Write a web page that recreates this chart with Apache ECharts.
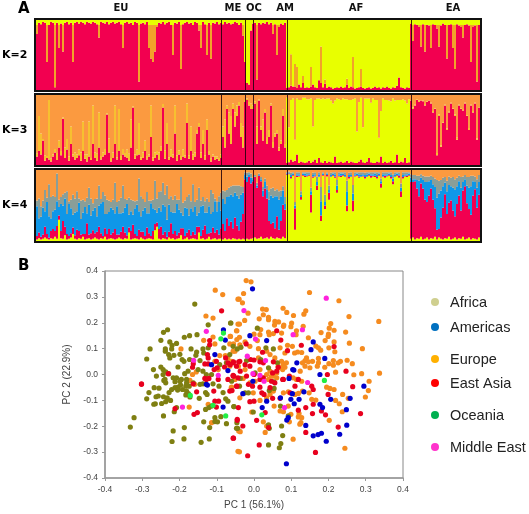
<!DOCTYPE html>
<html><head><meta charset="utf-8">
<style>html,body{margin:0;padding:0;background:#fff}#c{width:529px;height:514px;filter:blur(0.35px)}</style>
<script src="https://cdn.jsdelivr.net/npm/echarts@6/dist/echarts.min.js"></script>
</head><body><div id="c"></div>
<script>
// Column order in every panel: EU 93, ME 12, OC 4, AM 17, AF 62, EA 36
const regionLabels = ['EU','ME','OC','AM','AF','EA'];
const separators = [93,105,109,126,188];
const kLabels = ['K=2','K=3','K=4'];

const k2Red = [
95,80,96,94,97,96,40,93,97,96, 4,96,60,95,55,96,97,94,96,40, 96,97,95,97,96,94,97,96,95,97, 96,94,75,97,96,95,97,94,96,97,
95,96,97,94,60,96,97,95,96,93, 97,96,12,95,96,94,97,60,45,40, 55,90,96,95,97,94,96,97,93,50, 96,95,97,30,94,96,97,95,96,93,
97,96,85,60,97,94,50,96,45,96, 95,97,94,
96,94,97,95,96,94,95,97,96,93,96,78,
40,10,8,85,
95,96,15,96,94,96,95,97,94,96,80,94,50,90,95,93,96,
3,4,6,5,5,3,8,4,10,3, 4,3,5,8,4,3,14,10,4,9, 3,5,4,2,3,4,3,5,3,4, 8,3,5,4,2,3,4,5,3,2, 3,4,2,3,5,3,4,2,4,3, 5,3,2,4,3,6,18,4,3,2, 4,3,
95,70,94,93,90,62,94,55,93,92, 60,94,93,88,62,92,95,93,45,93, 94,60,30,94,92,90,75,93,94,92, 40,90,92,12,93,94];
const k2AfricaSpikes = [[128,45],[130,32],[131,30],[134,10],[138,28],[143,52],[145,6],[156,8],[159,43],[163,25]];

const k3Red = [
8,12,20,15,35,6,10,8,5,12, 18,7,25,14,66,10,22,6,30,12, 8,10,14,6,20,9,5,12,7,30, 10,6,25,8,12,15,72,18,5,10,
30,8,20,7,15,12,10,6,25,82, 9,14,15,7,10,20,8,12,40,6, 10,15,8,20,82,9,30,7,12,10, 45,6,15,8,12,10,60,9,20,7,
12,45,55,10,30,8,50,15,5,12, 7,9,6,
10,40,25,80,45,30,80,55,70,85,40,25,
90,93,85,80,
80,88,30,92,50,35,75,30,40,85,25,40,45,20,30,70,25,
3,4,8,5,6,15,3,5,4,3, 4,6,3,5,8,3,10,4,3,6, 3,5,4,3,12,3,4,5,3,4, 6,3,5,4,3,3,5,8,4,3, 5,10,4,3,3,5,4,12,3,5, 3,4,6,3,4,15,3,5,4,10, 3,4,
92,80,85,93,90,92,91,85,90,92, 88,75,80,14,70,26,60,85,50,75, 88,80,70,36,85,80,78,88,70,50, 85,75,88,36,82,70];
const k3Yellow = [
6,4,50,30,2,8,3,85,4,3, 5,10,10,6,2,15,15,6,25,3, 10,5,8,12,42,6,10,50,3,55, 8,10,50,5,6,8,2,20,5,8,
55,3,60,6,8,5,12,10,40,2, 6,8,45,4,8,15,5,3,45,5, 8,5,10,6,5,12,30,4,10,5, 40,8,6,5,10,4,28,5,35,8,
6,5,5,8,20,6,15,5,4,3, 5,3,4,
5,15,40,5,30,40,8,20,15,5,20,30,
3,2,5,8,
5,3,25,2,5,30,5,10,10,3,8,5,5,5,5,10,5,
93,50,85,90,30,80,90,88,92,93, 90,88,92,50,85,92,85,90,92,88, 92,90,88,85,80,92,90,88,92,90, 88,90,88,90,92,45,85,88,50,92, 90,85,85,92,90,88,35,65,92,88, 90,88,85,92,88,78,90,88,90,82, 85,90,
1,2,1,1,2,1,1,2,1,1, 1,2,1,3,2,2,1,1,2,1, 1,1,2,3,1,1,2,1,1,3, 1,2,1,2,1,1];

const k4Yellow = [
3,2,4,2,3,5,3,2,4,3, 6,3,30,4,3,8,2,3,5,10, 3,2,4,3,6,2,3,4,2,3, 5,3,2,4,3,6,2,3,4,3,
2,3,5,3,2,4,3,12,2,3, 4,3,2,5,3,2,3,4,3,2, 15,20,3,2,4,3,2,5,3,4, 2,3,4,8,2,3,5,2,3,4,
3,2,12,3,4,2,3,6,2,3, 4,2,3,
3,2,4,2,3,2,4,3,2,3,2,3,
2,3,2,3,
4,5,3,4,6,3,4,5,3,6,4,3,5,4,3,6,4,
93,94,88,92,16,90,91,58,92,90, 91,92,40,89,91,72,90,28,92,45, 91,58,90,92,89,68,91,90,92,90, 42,88,90,42,91,92,89,90,91,88, 90,92,89,91,90,88,92,75,90,89, 91,92,88,80,90,92,89,62,88,91, 90,92,
3,5,2,4,3,6,2,3,5,2, 4,3,6,2,5,3,2,4,3,6, 2,3,5,2,4,3,6,2,3,5, 2,4,3,2,5,3];
const k4Red = [
12,5,8,4,6,15,7,3,10,14, 8,18,6,10,25,12,8,4,6,9, 5,14,10,6,4,8,22,5,9,12, 6,10,18,7,4,12,8,14,5,9,
15,6,4,10,18,8,5,7,12,20, 6,4,14,8,10,5,16,7,4,12, 9,6,14,18,5,10,4,8,22,6, 12,5,8,10,16,4,7,14,5,9,
6,18,8,4,12,20,7,5,10,16, 8,14,6,
15,22,10,30,18,25,14,30,20,12,25,35,
85,80,88,78,
80,85,72,88,78,60,70,55,25,18,22,15,30,12,25,45,40,
1,1,2,1,30,2,1,4,1,2, 1,1,25,2,1,6,1,8,1,5, 2,10,1,1,2,4,1,2,1,1, 8,2,1,15,1,1,2,1,1,2, 1,1,3,1,2,2,1,6,1,3, 1,1,2,4,1,1,3,8,2,1, 2,1,
80,78,82,70,60,75,72,55,50,62, 70,55,40,14,12,30,45,62,35,48, 55,40,30,50,60,40,65,75,50,40, 35,60,70,45,60,72];
const k4Blue = [
25,42,20,28,38,22,45,30,18,25, 30,35,12,38,22,40,28,45,35,18, 32,26,40,22,30,38,14,42,25,28, 36,22,30,42,48,20,28,24,38,32,
22,40,30,26,20,35,44,18,28,14, 36,44,26,22,30,40,20,28,46,32, 20,14,30,22,42,36,24,38,16,30, 26,44,32,22,18,40,34,20,38,28,
40,16,20,42,34,18,30,38,26,22, 44,26,46,
25,35,38,30,42,38,45,35,42,45,38,30,
6,8,4,8,
2,1,3,1,3,8,10,12,30,40,35,45,28,42,35,20,8,
1,1,3,2,4,2,2,3,2,3, 2,1,5,2,2,5,3,20,2,5, 2,4,2,2,3,6,2,3,2,2, 20,3,2,10,2,2,3,2,2,3, 3,2,2,2,3,3,2,3,3,2, 2,2,3,4,3,2,2,5,3,2, 2,2,
6,4,3,12,22,8,12,25,28,20, 12,22,30,45,50,38,30,16,32,25, 20,32,38,25,20,32,12,10,25,30, 40,20,10,28,18,12];
const k4Grey = [
20,8,28,15,10,30,6,20,30,22, 18,6,10,10,16,8,25,4,12,28, 20,14,6,26,18,8,22,6,24,10, 12,25,18,6,14,26,20,16,8,14,
26,6,18,22,28,12,6,24,16,20, 10,6,24,28,16,8,30,18,4,12, 18,20,22,28,8,16,26,8,22,18, 24,6,14,26,18,10,16,30,10,14,
6,22,30,8,12,16,20,6,18,26, 4,14,8,
25,12,18,10,12,12,15,10,14,18,12,8,
4,5,3,6,
3,2,4,2,3,5,4,6,12,10,14,8,10,12,8,6,10,
2,2,3,2,5,3,3,5,2,2, 3,3,5,3,3,8,3,20,2,10, 2,6,3,2,3,8,3,2,2,4, 15,3,4,12,3,2,3,4,3,3, 3,2,3,3,2,4,2,4,3,3, 3,2,4,6,3,2,3,6,4,3, 3,2,
5,6,6,6,7,5,6,8,8,7, 6,10,12,25,18,15,12,8,15,12, 12,15,14,12,8,15,8,6,12,15, 15,8,8,12,10,6];
// Tall grey spikes in the EU part of K=4: [column, height reached]
const k4TallSpikes = [[7,80],[11,95],[16,70],[21,70],[27,75],[32,78],[40,82],[44,78],[52,88],[60,85],[64,82],[66,78],[73,90],[79,80],[82,75],[88,72]];

const pcOrange = [[-.021,.363],[-.008,.358],[-.028,.313],[-.04,.291],[-.031,.277],[.149,.317],[.228,.285],[.255,.224],[.335,.205],[.078,.256],[.088,.24],[.106,.228],[.139,.246],[.134,.233],[.023,.253],[.033,.251],[.025,.231],[.014,.215],[.039,.221],[.039,.212],[-.016,.237],[-.025,.209],[-.039,.195],[-.046,.169],[-.039,.144],[-.064,.147],[.056,.205],[.066,.203],[.055,.191],[.08,.191],[.079,.186],[.101,.199],[.099,.185],[.132,.186],[.114,.169],[.113,.154],[.206,.197],[.202,.179],[.215,.171],[.2,.156],[.199,.147],[.246,.164],[.18,.162],[.146,.142],[.191,.131],[.215,.126],[.256,.121],[.291,.1],[.201,.103],[.217,.088],[.166,.11],[.179,.094],[.173,.103],[0,.156],[.018,.174],[.039,.164],[.041,.154],[.052,.158],[.074,.16],[.016,.154],[.009,.131],[.012,.1],[-.038,.115],[-.024,.126],[-.011,.109],[-.051,.09],[-.055,.118],[-.046,.135],[.09,.113],[.103,.109],[.07,.103],[.083,.083],[.109,.083],[.117,.087],[.128,.085],[.141,.064],[.137,.054],[.13,.045],[.146,.049],[.157,.051],[.173,.062],[.173,.045],[.17,.032],[.15,.026],[.137,.032],[.124,.013],[.201,.042],[.213,.054],[.226,.045],[.232,.051],[.25,.055],[.264,.042],[.213,.036],[.19,.028],[.219,.009],[.268,-.001],[.289,.003],[.337,.005],[.309,-.026],[.079,.038],[.074,.051],[.083,.028],[.087,.045],[.07,.026],[.077,.019],[.065,.032],[.056,.064],[.043,.077],[.034,.09],[.043,.013],[.061,.006],[.052,-.006],[.039,-.019],[.034,0],[.105,-.013],[.114,-.019],[.128,-.026],[-.06,.051],[-.042,.032],[-.024,.019],[.012,.064],[.016,.019],
[-.051,-.019],[-.029,-.015],[-.06,-.049],[-.011,-.032],[.003,-.026],[.021,-.013],[.047,-.006],[.061,-.013],[.195,-.049],[.204,-.054],[.215,-.058],[.238,-.077],[.253,-.092],[.307,-.062],[.299,-.087],[.219,-.1],[.229,-.113],[.237,-.144],[.202,-.177],[.244,-.285],[.105,-.25],[-.039,-.299],[-.037,-.221],[.054,-.122],[-.006,-.145],[.025,-.183],[.03,-.224],[.034,-.199],[.07,-.141],[.079,-.144],[.099,-.154],[.121,-.151],[.119,-.164],[.128,-.167],[.126,-.186],[.123,-.192],[.095,-.183],[.155,-.096],[.166,-.099],[.148,-.071],[.13,-.064],[.119,-.073],[.11,-.077],[.092,-.067],[.079,-.071],[.052,-.064],[.043,-.077],[.034,-.09],[.016,-.1],[.092,-.122],[-.002,-.071],
[-.104,.326],[-.084,.309],[-.043,.291],[-.129,.226],[-.11,.218],[-.043,.195],[-.047,.169],[-.063,.147],[-.11,.145],[-.135,.132],[-.196,.099],[-.105,.118],[-.056,.09],[-.092,.073],[-.077,.073],[-.065,.118],[-.07,.064],[-.165,0],[-.155,.01],[-.105,.051],[-.096,.019],[-.065,.032],[-.172,-.023],[-.159,-.038],[-.114,-.186],[-.043,-.297],[-.061,-.051],[-.038,-.09],[-.123,-.115],[-.041,-.218],[-.174,-.126]];

const pcOlive = [[-.159,.272],[-.232,.173],[-.243,.163],[-.25,.132],[-.279,.099],[-.288,.06],[-.226,.126],[-.22,.113],[-.208,.12],[-.238,.099],[-.238,.09],[-.221,.099],[-.229,.077],[-.226,.064],[-.215,.074],[-.199,.078],[-.187,.144],[-.173,.15],[-.153,.154],[-.063,.199],[-.123,.192],[-.169,.099],[-.154,.087],[-.156,.074],[-.193,.058],[-.188,.051],[-.173,.058],[-.137,.099],[-.135,.083],[-.145,.054],[-.27,.019],[-.25,.029],[-.244,.019],[-.237,.01],[-.262,-.006],[-.229,.003],[-.204,.029],[-.242,-.023],
[-.282,-.07],[-.268,-.051],[-.255,-.053],[-.288,-.094],[-.263,-.086],[-.257,-.083],[-.269,-.115],[-.265,-.113],[-.243,-.086],[-.233,-.09],[-.237,-.105],[-.248,-.112],[-.224,-.1],[-.228,-.07],[-.221,-.058],[-.212,-.051],[-.204,-.049],[-.197,-.041],[-.205,-.06],[-.192,-.058],[-.183,-.045],[-.174,-.045],[-.181,-.064],[-.176,-.074],[-.183,-.079],[-.172,-.087],[-.208,-.128],[-.214,-.144],[-.243,-.16],[-.322,-.167],[-.332,-.203],[-.217,-.218],[-.22,-.259],[-.187,-.205],[-.188,-.249],[-.142,-.262],[-.12,-.249],[-.119,-.205],[-.135,-.183],[-.105,-.182],[-.098,-.183],[-.074,-.19],[-.047,-.208],[-.089,-.163],[-.105,-.167],[-.076,-.094],[-.07,-.103],[-.054,-.124],[-.147,-.092],[-.13,-.07],[-.126,-.077],[-.13,-.135],[-.121,-.128],[-.114,-.122],[-.239,-.019],[-.237,-.032],[-.217,-.013],[-.212,-.028],[-.195,-.019],[-.181,-.032],[-.145,-.038],[-.137,-.036],[-.11,-.036],[-.094,-.045],[-.083,-.07],
[-.062,.199],[.009,.179],[-.035,.105],[-.045,.099],[.052,.099],[.032,.103],[.018,.058],[-.02,.054],[.063,.045],[.039,.026],[.003,.006],[.053,-.028],[-.037,-.015],[-.06,-.026],[-.039,-.045],[-.024,-.071],[-.015,-.071],[.041,-.062],[.054,-.054],[-.054,-.124],[-.002,-.145],[.071,-.122],[.092,-.16],[.074,-.199],[.039,-.195],[.041,-.208],[-.046,-.186],[-.044,-.208],[.077,-.236],[.072,-.267],[.068,-.283],[.039,-.272],
[-.177,.013],[-.186,.003],[-.137,.013],[-.15,.019],[-.128,0],[-.114,0],[-.081,.103],[-.074,.045],[-.092,.038],[-.065,.077],[-.056,.109],[-.123,.103],[-.181,-.019],[-.163,-.032],[-.208,-.013],[-.199,-.026],[-.244,0]];

const pcRed = [[-.087,.246],[-.119,.131],[-.119,.115],[-.125,.077],[-.123,.064],[-.23,.003],[-.163,.042],[-.165,.028],[-.132,.041],[-.123,.041],[-.101,.051],[-.099,.026],[-.076,.064],[-.07,.045],[-.056,.045],[-.047,.032],[-.041,.049],[-.079,.029],[-.107,.019],[-.132,-.015],[-.121,-.015],[-.096,-.019],[-.07,-.019],[-.043,-.013],[-.056,-.003],[-.302,-.036],[-.302,-.038],[-.163,-.036],[-.212,-.132],[-.161,-.154],[-.152,-.147],[-.154,-.067],[-.105,-.103],[-.095,-.103],[-.101,-.126],[-.108,-.064],[-.065,-.064],[-.059,-.062],[-.047,-.045],[-.128,-.019],[-.056,-.006],[-.045,-.177],[-.056,-.246],
[-.021,.118],[-.009,.058],[.023,.086],[.061,.169],[.072,.133],[.127,.113],[.09,.092],[.215,.108],[.247,.013],[.197,0],[.065,.028],[.052,.049],[.025,.045],[0,.056],[-.024,.038],[-.038,.051],[-.055,.049],[-.064,.038],[-.011,.032],[.016,.049],[-.054,-.006],[.05,.006],[.061,.013],[.077,-.019],[.025,-.013],[.016,-.019],[.047,-.026],[.095,-.006],[-.037,.013],[-.02,-.006],[0,0],
[-.046,-.045],[-.042,-.128],[-.011,-.105],[0,-.103],[-.015,-.038],[-.004,-.045],[.016,-.049],[.021,-.071],[.027,-.077],[.03,-.147],[.007,-.177],[-.03,-.199],[-.045,-.173],[-.055,-.246],[.014,-.272],[-.017,-.314],[.039,-.205],[.056,-.032],[.043,-.051],[.079,-.019],[.11,-.045],[.119,-.019],[.155,-.045],[.159,-.058],[.139,-.128],[.159,-.115],[.157,-.151],[.181,-.141],[.192,-.156],[.265,-.047],[.199,-.077],[.226,-.203],[.286,-.151],[.139,-.224],[.165,-.301],[.05,-.092],[.07,-.092],[.119,-.138],[.097,-.071]];

const pcBlue = [[-.004,.331],[-.011,.15],[.034,.131],[.159,.126],[.153,.096],[.19,.062],[.115,.045],[.104,.019],[.107,.017],[.177,0],[.094,-.015],[-.003,-.026],[-.082,.173],[-.077,.133],[-.105,.077],[-.114,.038],[-.07,.015],[-.128,-.038],[-.125,-.041],[-.083,-.126],[-.03,-.074],[.071,-.09],[.034,-.103],[.022,-.128],[.103,-.074],[.099,-.096],[.121,-.096],[.108,-.113],[.134,-.067],[.177,-.115],[.184,-.128],[.206,-.096],[.258,-.092],[.295,-.045],[.248,-.136],[.249,-.196],[.23,-.231],[.139,-.197],[.159,-.237],[.172,-.232],[.181,-.227],[.194,-.258],[.092,-.167],[.088,-.176],[.087,-.345]];

const pcMagenta = [[-.128,.167],[-.162,.055],[-.096,-.003],[-.027,.247],[.194,.295],[.105,.154],[.13,.173],[.004,.137],[-.018,.071],[.031,.054],[-.003,.003],[.016,-.003],[.144,-.031],[-.192,-.126],[.027,-.026],[.082,-.128]];

const pcGreen = [[-.082,.16],[-.089,.138],[-.171,-.081],[-.11,-.119],[-.076,-.16],[.021,-.156],[.189,-.023]];

const legendNames = ['Africa','Americas','Europe','East Asia','Oceania','Middle East'];
const legendColors = ['#cfcf8f','#0070c0','#ffb000','#ff0000','#00b050','#ff33cc'];
const legendRows = [302,327,359,383,415,447];

const RED='#f20050', YEL='#e8ff00', ORA='#fb9a40', BLU='#0f97e8', GRY='#8a9e98', MID='#f2a22a', SPK='#f6c030';
const cats = k2Red.map((_, i) => i);
const spikeMap = Object.fromEntries(k2AfricaSpikes);
const tallMap = Object.fromEntries(k4TallSpikes);
const k2Mid = k2Red.map((r, i) => (i >= 105 && i < 109) ? 0 : (i >= 126 && i < 188) ? (spikeMap[i] || 0) : Math.max(0, 93 - r));
const rest = (...arrs) => cats.map(i => Math.max(0, 100 - arrs.reduce((s, a) => s + a[i], 0)));
const k4GreyFull = k4Grey.map((g, i) => tallMap[i] ? Math.max(g, tallMap[i] - k4Yellow[i] - k4Red[i] - k4Blue[i]) : g);
// K=3 yellow reads as orange-yellow outside the African columns
const k3YellowItems = k3Yellow.map((v, i) => ({value: v, itemStyle: {color: (i >= 126 && i < 188) ? YEL : SPK}}));

const panelTops = [20, 95, 170], panelH = [70, 70, 71], panelLeft = 34, panelW = 448;
const panels = [
  [[k2Red, RED], [k2Mid, MID], [rest(k2Red, k2Mid), YEL]],
  [[k3Red, RED], [k3YellowItems, YEL], [rest(k3Red, k3Yellow), ORA]],
  [[k4Yellow, YEL], [k4Red, RED], [k4Blue, BLU], [k4GreyFull, GRY], [rest(k4Yellow, k4Red, k4Blue, k4GreyFull), ORA]]
];

const grid = [], xAxis = [], yAxis = [], series = [];
panels.forEach((layers, p) => {
  grid.push({left: panelLeft, top: panelTops[p], width: panelW, height: panelH[p]});
  xAxis.push({type: 'category', data: cats, gridIndex: p, show: false});
  yAxis.push({type: 'value', min: 0, max: 100, gridIndex: p, show: false});
  layers.forEach(([vals, col], l) => {
    const s = {type: 'bar', xAxisIndex: p, yAxisIndex: p, stack: 'p' + p, data: vals, barWidth: '100%', barCategoryGap: 0,
      itemStyle: {color: col}, animation: false, silent: true};
    if (l === layers.length - 1) s.markLine = {silent: true, symbol: 'none', label: {show: false}, animation: false,
      lineStyle: {color: 'rgba(30,0,10,0.85)', width: 1, type: 'solid'},
      data: separators.map(x => ({xAxis: x}))};
    series.push(s);
  });
});

grid.push({left: 105, top: 271, width: 298, height: 207, show: true, borderColor: '#888', borderWidth: 1, backgroundColor: 'transparent'});
const labelTxt = {color: '#444', fontSize: 8.5, fontFamily: 'Liberation Sans'};
const axisBase = {type: 'value', min: -0.4, max: 0.4, interval: 0.1, gridIndex: 3, splitLine: {show: false}, nameLocation: 'middle',
  nameTextStyle: {color: '#444', fontSize: 10, fontFamily: 'Liberation Sans'},
  axisLine: {show: true, onZero: false, lineStyle: {color: '#999', width: 1.5}}, axisTick: {show: true, length: 3, lineStyle: {color: '#999'}},
  axisLabel: Object.assign({formatter: v => v.toFixed(1), margin: 7}, labelTxt)};
xAxis.push(Object.assign({}, axisBase, {name: 'PC 1 (56.1%)', nameGap: 22}));
yAxis.push(Object.assign({}, axisBase, {name: 'PC 2 (22.9%)', nameGap: 14}));
[[pcOrange,'#f58b1f'],[pcOlive,'#7f7f12'],[pcRed,'#e8001e'],[pcBlue,'#0000cc'],[pcMagenta,'#ff22dd'],[pcGreen,'#22ee44']].forEach(([d,c]) => {
  series.push({type: 'scatter', xAxisIndex: 3, yAxisIndex: 3, data: d, symbolSize: 5.2, itemStyle: {color: c, opacity: 1}, animation: false, silent: true});
});

const graphic = [];
const txt = (x, y, text, font, fill, align) => graphic.push({type: 'text', x, y, z: 20, style: {text, font, fill: fill || '#000', textAlign: align || 'left', textVerticalAlign: 'middle'}});
panelTops.forEach((t, p) => {
  graphic.push({type: 'rect', z: 15, shape: {x: 35, y: t - 1, width: 446, height: panelH[p] + 2}, style: {fill: 'none', stroke: '#111', lineWidth: 2}});
  txt(2, t + 35, kLabels[p], 'bold 11px "DejaVu Sans"');
});
txt(18, 9, 'A', '900 15px "DejaVu Sans"');
txt(18, 266, 'B', '900 15px "DejaVu Sans"');
const regionX = [121, 233, 254, 285, 356, 453];
regionLabels.forEach((r, i) => txt(regionX[i], 8, r, 'bold 10px "DejaVu Sans"', '#111', 'center'));
legendNames.forEach((name, i) => {
  graphic.push({type: 'circle', z: 20, shape: {cx: 435, cy: legendRows[i], r: 4}, style: {fill: legendColors[i]}});
  txt(450, legendRows[i] + 1, name, '14.5px "Liberation Sans"', '#222');
});

const chart = echarts.init(document.getElementById('c'), null, {renderer: 'canvas'});
chart.setOption({backgroundColor: '#fff', animation: false, grid, xAxis, yAxis, series, graphic});
</script></body></html>
